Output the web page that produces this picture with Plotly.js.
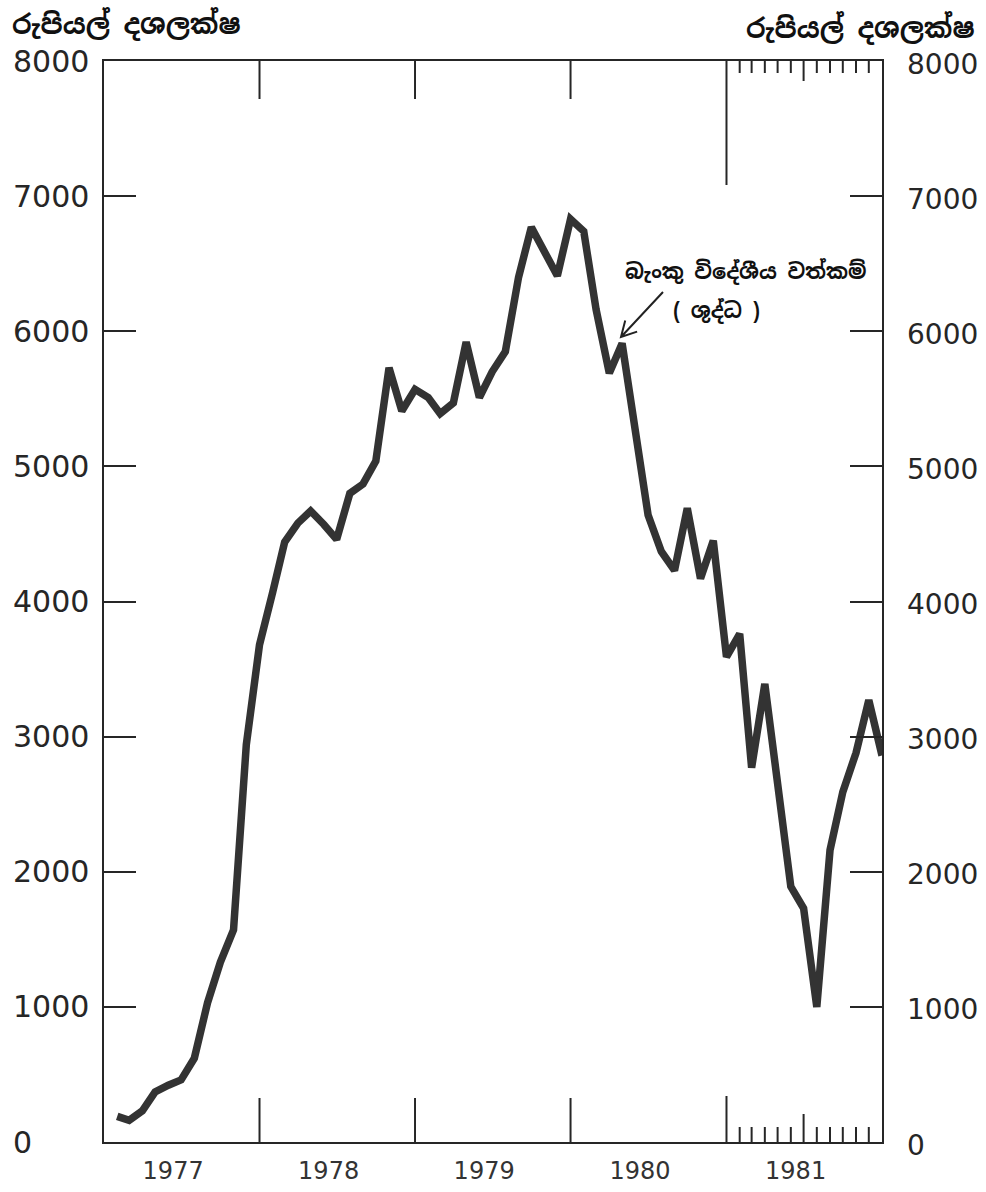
<!DOCTYPE html>
<html>
<head>
<meta charset="utf-8">
<script src="https://cdn.plot.ly/plotly-3.0.1.min.js"></script>
<style>
  html, body { margin: 0; padding: 0; background: #ffffff; }
  #chart { width: 986px; height: 1192px; }
</style>
</head>
<body>
<div id="chart"></div>
<script>
// ---- data (monthly, end of month) ----
const years = [1977, 1978, 1979, 1980, 1981];
const values1977 = [190, 160, 230, 370, 420, 460, 620, 1030, 1330, 1570, 2940, 3680];
const values1978 = [4070, 4440, 4580, 4670, 4570, 4460, 4800, 4870, 5040, 5730, 5410, 5570];
const values1979 = [5510, 5390, 5470, 5920, 5510, 5700, 5850, 6400, 6770, 6590, 6410, 6830];
const values1980 = [6740, 6160, 5690, 5910, 5220, 4640, 4370, 4230, 4690, 4170, 4450, 3590];
const values1981 = [3760, 2770, 3390, 2620, 1890, 1730, 1000, 2160, 2590, 2880, 3270, 2860];
const yTickValues = [0, 1000, 2000, 3000, 4000, 5000, 6000, 7000, 8000];
const yTickLabels = ['0', '1000', '2000', '3000', '4000', '5000', '6000', '7000', '8000'];
const yearLabels = ['1977', '1978', '1979', '1980', '1981'];
const unitLabel = 'රුපියල් දශලක්ෂ';
const seriesLabelLine1 = 'බැංකු විදේශීය වත්කම්';
const seriesLabelLine2 = '( ශුද්ධ )';

// ---- build x (end of each month = first day of next month) ----
const seriesValues = [].concat(values1977, values1978, values1979, values1980, values1981);
const pad = n => (n < 10 ? '0' + n : '' + n);
const monthDates = [];
years.forEach(y => {
  for (let m = 1; m <= 12; m++) {
    const ny = m === 12 ? y + 1 : y;
    const nm = m === 12 ? 1 : m + 1;
    monthDates.push(ny + '-' + pad(nm) + '-01');
  }
});
const midYears = years.map(y => y + '-07-01');

// ---- page geometry helpers (for text placement only) ----
const W = 986, H = 1192;
const M = { l: 104, r: 104, t: 61, b: 50 };
const PW = W - M.l - M.r, PH = H - M.t - M.b;
const px = x => (x - M.l) / PW;
const py = y => (H - M.b - y) / PH;

const fontNum = 'DejaVu Sans, Liberation Sans, sans-serif';
const fontSin = 'Noto Sans Sinhala, Iskoola Pota, Noto Sans, sans-serif';
const ink = '#262626';

const trace = {
  x: monthDates,
  y: seriesValues,
  type: 'scatter',
  mode: 'lines',
  line: { color: '#333333', width: 7.5, shape: 'linear' },
  hoverinfo: 'x+y',
  showlegend: false
};

const annotations = [];
yTickValues.forEach((v, i) => {
  annotations.push({ xref: 'paper', yref: 'y', x: px(11), y: v, xanchor: 'left', yanchor: 'middle',
    text: yTickLabels[i], showarrow: false, font: { family: fontNum, size: 30, color: ink } });
  annotations.push({ xref: 'paper', yref: 'y', x: px(905), y: v, xanchor: 'left', yanchor: 'middle', yshift: -3,
    text: yTickLabels[i], showarrow: false, font: { family: fontNum, size: 28, color: ink } });
});
annotations.push({ xref: 'paper', yref: 'paper', x: px(10), y: py(25), xanchor: 'left', yanchor: 'middle',
  text: '<b>' + unitLabel + '</b>', showarrow: false, font: { family: fontSin, size: 27, color: '#111' } });
annotations.push({ xref: 'paper', yref: 'paper', x: px(977), y: py(28), xanchor: 'right', yanchor: 'middle',
  text: '<b>' + unitLabel + '</b>', showarrow: false, font: { family: fontSin, size: 27, color: '#111' } });
annotations.push({ xref: 'paper', yref: 'paper', x: px(745), y: py(271), xanchor: 'center', yanchor: 'middle',
  text: '<b>' + seriesLabelLine1 + '</b>', showarrow: false, font: { family: fontSin, size: 21, color: '#111' } });
annotations.push({ xref: 'paper', yref: 'paper', x: px(716), y: py(310), xanchor: 'center', yanchor: 'middle',
  text: '<b>' + seriesLabelLine2 + '</b>', showarrow: false, font: { family: fontSin, size: 21, color: '#111' } });

// ---- decorative ticks and pointer ----
const shapes = [];
const tickLine = (xd, yAnchor, y0, y1, w) => ({
  type: 'line', xref: 'x', yref: 'paper', ysizemode: 'pixel', yanchor: yAnchor,
  x0: xd, x1: xd, y0: y0, y1: y1, line: { color: ink, width: w || 2 }
});
// year boundaries (bottom and top)
['1978-01-01', '1979-01-01', '1980-01-01'].forEach(d => {
  shapes.push(tickLine(d, 0, 0, 44, 2));
  shapes.push(tickLine(d, 1, 0, -38, 2));
});
shapes.push(tickLine('1981-01-01', 0, 0, 46, 2));
shapes.push(tickLine('1981-01-01', 1, 0, -124, 2));
// monthly ticks in 1981
for (let m = 2; m <= 12; m++) {
  const d = '1981-' + pad(m) + '-01';
  const big = m === 7;
  shapes.push(tickLine(d, 0, 0, big ? 28 : 15, 2));
  shapes.push(tickLine(d, 1, 0, big ? -20 : -12, 2));
}
// arrow pointer
const tail = [663, 292], tip = [621, 337];
const ang = Math.atan2(tail[1] - tip[1], tail[0] - tip[0]);
const hl = 17, ha = 0.5;
const a1 = [tip[0] + hl * Math.cos(ang + ha), tip[1] + hl * Math.sin(ang + ha)];
const a2 = [tip[0] + hl * Math.cos(ang - ha), tip[1] + hl * Math.sin(ang - ha)];
const P = p => px(p[0]) + ',' + py(p[1]);
shapes.push({ type: 'path', xref: 'paper', yref: 'paper',
  path: 'M' + P(tail) + ' L' + P(tip) + ' M' + P(a1) + ' L' + P(tip) + ' L' + P(a2),
  line: { color: '#222', width: 2 } });

const layout = {
  width: W, height: H,
  margin: M,
  paper_bgcolor: '#ffffff', plot_bgcolor: '#ffffff',
  showlegend: false,
  xaxis: {
    type: 'date', range: ['1977-01-01', '1982-01-01'],
    showline: true, linewidth: 2, linecolor: ink, mirror: true,
    showgrid: false, zeroline: false, ticks: '',
    tickmode: 'array', tickvals: midYears, ticktext: yearLabels,
    tickfont: { family: fontNum, size: 24, color: '#333' },
    ticklabelshift: -8, ticklabelstandoff: 6
  },
  yaxis: {
    range: [0, 8000], showline: true, linewidth: 2, linecolor: ink, mirror: 'ticks',
    showgrid: false, zeroline: false, ticks: 'inside', ticklen: 32, tickwidth: 2, tickcolor: ink,
    tickmode: 'array', tickvals: yTickValues.slice(1, -1), showticklabels: false
  },
  annotations: annotations,
  shapes: shapes
};

Plotly.newPlot('chart', [trace], layout, { displayModeBar: false, staticPlot: true });
</script>
</body>
</html>
